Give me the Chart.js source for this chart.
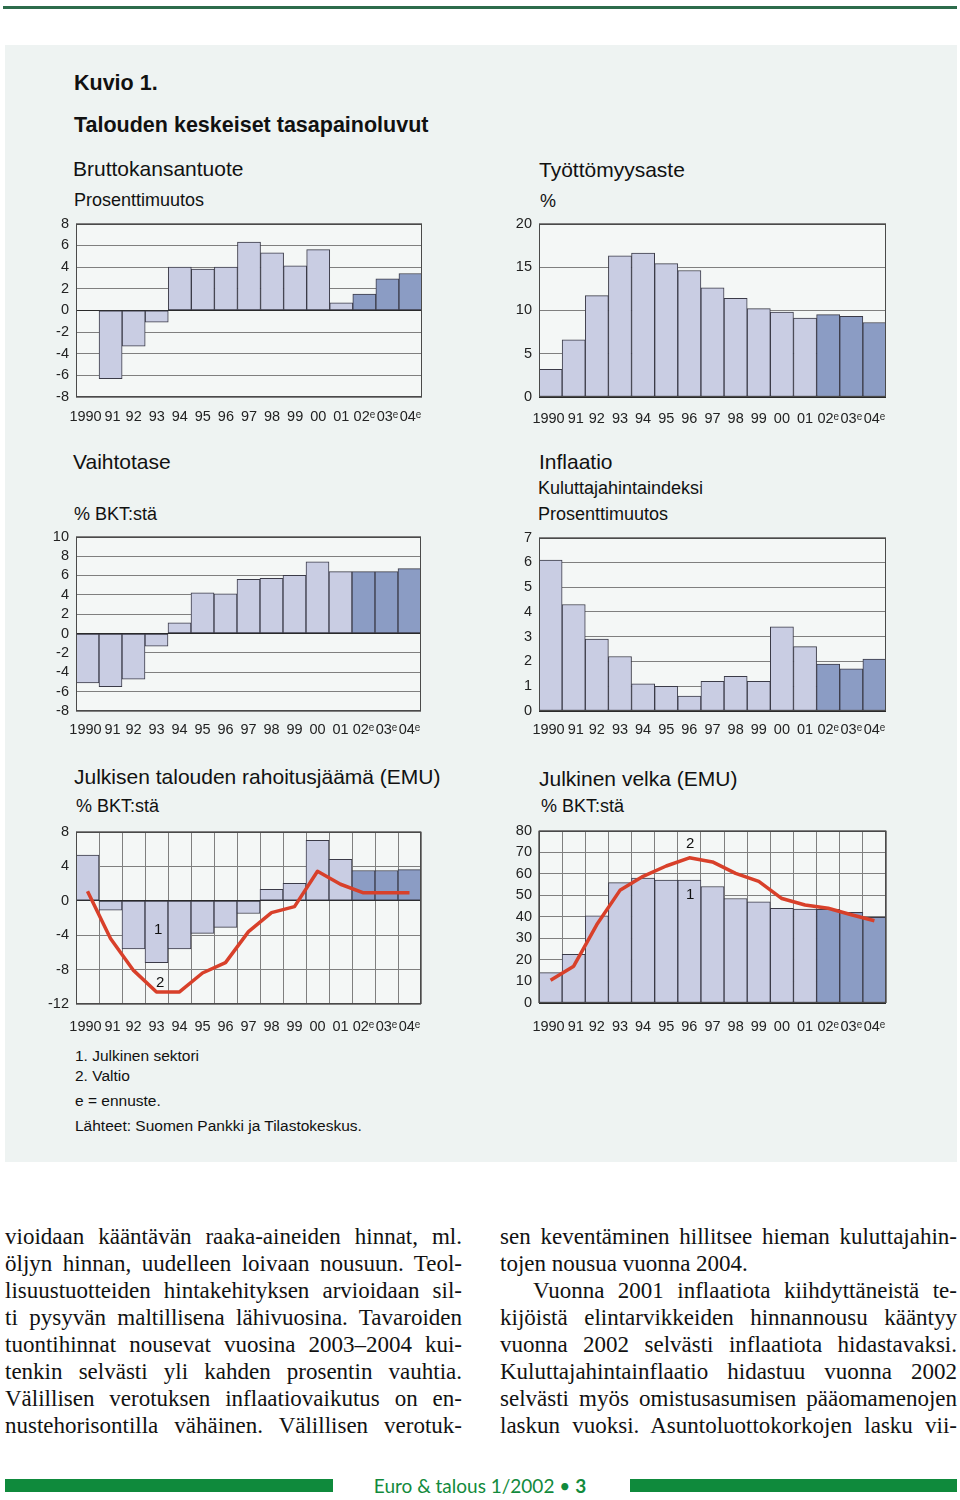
<!DOCTYPE html>
<html><head><meta charset="utf-8">
<script src="https://cdn.jsdelivr.net/npm/chart.js@4.4.1/dist/chart.umd.min.js"></script>
<style>
body{margin:0;width:960px;height:1500px;background:#fff;position:relative;font-family:"Liberation Sans",Arial,sans-serif;color:#111;overflow:hidden}
.a{position:absolute;white-space:nowrap;line-height:1}
.h1{font-weight:bold;font-size:21.5px}
.h2{font-size:21px}
.h3{font-size:18px}
.nt{font-size:15.5px}
.num{font-size:15px;z-index:3}
.col{position:absolute;top:1223px;width:457px;font-family:"Liberation Serif","Times New Roman",serif;font-size:23px;color:#111}
.ln{height:27px;line-height:27px;text-align:justify;text-align-last:justify;white-space:nowrap}
.ln.l{text-align:left;text-align-last:left}
</style></head><body>
<div style="position:absolute;left:3px;top:6px;width:954px;height:3px;background:#2d6c4b"></div>
<div style="position:absolute;left:5px;top:45px;width:952px;height:1117px;background:#eef3f2"></div>

<div class="a h1" style="left:74px;top:73px">Kuvio 1.</div>
<div class="a h1" style="left:74px;top:115px">Talouden keskeiset tasapainoluvut</div>

<div class="a h2" style="left:73px;top:158px">Bruttokansantuote</div>
<div class="a h3" style="left:74px;top:191px">Prosenttimuutos</div>
<div class="a h2" style="left:539px;top:159px">Työttömyysaste</div>
<div class="a h3" style="left:540px;top:192px">%</div>

<div class="a h2" style="left:73px;top:451px">Vaihtotase</div>
<div class="a h3" style="left:74px;top:505px">% BKT:stä</div>
<div class="a h2" style="left:539px;top:451px">Inflaatio</div>
<div class="a h3" style="left:538px;top:479px">Kuluttajahintaindeksi</div>
<div class="a h3" style="left:538px;top:505px">Prosenttimuutos</div>

<div class="a h2" style="left:74px;top:766px">Julkisen talouden rahoitusjäämä (EMU)</div>
<div class="a h3" style="left:76px;top:797px">% BKT:stä</div>
<div class="a h2" style="left:539px;top:768px">Julkinen velka (EMU)</div>
<div class="a h3" style="left:541px;top:797px">% BKT:stä</div>

<div class="a nt" style="left:75px;top:1048px">1. Julkinen sektori</div>
<div class="a nt" style="left:75px;top:1068px">2. Valtio</div>
<div class="a nt" style="left:75px;top:1093px">e = ennuste.</div>
<div class="a nt" style="left:75px;top:1118px">Lähteet: Suomen Pankki ja Tilastokeskus.</div>

<div class="col" style="left:5px">
<div class="ln">vioidaan kääntävän raaka-aineiden hinnat, ml.</div>
<div class="ln">öljyn hinnan, uudelleen loivaan nousuun. Teol-</div>
<div class="ln">lisuustuotteiden hintakehityksen arvioidaan sil-</div>
<div class="ln">ti pysyvän maltillisena lähivuosina. Tavaroiden</div>
<div class="ln">tuontihinnat nousevat vuosina 2003–2004 kui-</div>
<div class="ln">tenkin selvästi yli kahden prosentin vauhtia.</div>
<div class="ln">Välillisen verotuksen inflaatiovaikutus on en-</div>
<div class="ln">nustehorisontilla vähäinen. Välillisen verotuk-</div>
</div>
<div class="col" style="left:500px">
<div class="ln">sen keventäminen hillitsee hieman kuluttajahin-</div>
<div class="ln l">tojen nousua vuonna 2004.</div>
<div class="ln" style="padding-left:33px">Vuonna 2001 inflaatiota kiihdyttäneistä te-</div>
<div class="ln">kijöistä elintarvikkeiden hinnannousu kääntyy</div>
<div class="ln">vuonna 2002 selvästi inflaatiota hidastavaksi.</div>
<div class="ln">Kuluttajahintainflaatio hidastuu vuonna 2002</div>
<div class="ln">selvästi myös omistusasumisen pääomamenojen</div>
<div class="ln">laskun vuoksi. Asuntoluottokorkojen lasku vii-</div>
</div>

<div style="position:absolute;left:5px;top:1479px;width:328px;height:13px;background:#0f8a3c"></div>
<div style="position:absolute;left:630px;top:1479px;width:327px;height:13px;background:#0f8a3c"></div>
<div class="a" style="left:330px;width:300px;text-align:center;top:1476px;font-family:Lato,'Open Sans',sans-serif;font-size:19px;color:#128a3c">Euro &amp; talous 1/2002 • <b>3</b></div>

<script>
// ---- data ----
const xLabels = ['1990 ',' 91','92','93','94','95','96','97','98','99','00','01','02ᵉ','03ᵉ','04ᵉ'];
const forecast = [false,false,false,false,false,false,false,false,false,false,false,false,true,true,true];
const gdpGrowth = [0.0,-6.3,-3.3,-1.1,4.0,3.8,4.0,6.3,5.3,4.1,5.6,0.7,1.5,2.9,3.4];
const unemployment = [3.2,6.6,11.7,16.3,16.6,15.4,14.6,12.6,11.4,10.2,9.8,9.1,9.5,9.3,8.6];
const currentAccount = [-5.1,-5.5,-4.7,-1.3,1.1,4.2,4.1,5.6,5.7,6.0,7.4,6.4,6.4,6.4,6.7];
const inflation = [6.1,4.3,2.9,2.2,1.1,1.0,0.6,1.2,1.4,1.2,3.4,2.6,1.9,1.7,2.1];
const publicBalance = [5.3,-1.1,-5.6,-7.2,-5.6,-3.8,-3.1,-1.5,1.3,2.0,7.0,4.8,3.5,3.5,3.6];
const stateBalance = [1.1,-4.4,-8.1,-10.6,-10.6,-8.4,-7.2,-3.6,-1.4,-0.7,3.4,1.9,0.9,0.9,0.9];
const publicDebt = [14.1,22.6,40.5,55.9,58.0,57.1,57.1,54.1,48.5,47.0,44.0,43.6,43.5,42.1,39.8];
const stateDebt = [10.6,17.1,36.4,52.3,58.8,63.6,67.4,65.5,60.2,56.5,48.5,45.5,44.0,41.0,38.2];

const LIGHT = '#c9cde3', DARK = '#8b9cc4', FONT = '"Liberation Sans", Arial, "DejaVu Sans", sans-serif';

const framePlugin = {
  id: 'frame',
  beforeDraw(chart) {
    const {ctx, chartArea: a} = chart;
    ctx.save(); ctx.fillStyle = '#f4f7f6';
    ctx.fillRect(a.left, a.top, a.width, a.height); ctx.restore();
  },
  afterDatasetsDraw(chart) {
    const {ctx, chartArea: a} = chart;
    ctx.save(); ctx.strokeStyle = '#4a4a4a'; ctx.lineWidth = 1;
    ctx.strokeRect(Math.round(a.left) + 0.5, Math.round(a.top) + 0.5, Math.round(a.width) - 1, Math.round(a.height) - 1);
    ctx.restore();
  }
};

function panel(cfg) {
  const yW = 40, padT = 12, padR = 20, xH = 32;
  const c = document.createElement('canvas');
  const w = yW + (cfg.R - cfg.L) + padR, h = padT + (cfg.B - cfg.T) + xH;
  c.width = w; c.height = h;
  c.style.cssText = `position:absolute;z-index:1;left:${cfg.L - yW}px;top:${cfg.T - padT}px;width:${w}px;height:${h}px`;
  document.body.appendChild(c);
  const datasets = [{
    type: 'bar', data: cfg.bars,
    backgroundColor: forecast.map(f => f ? DARK : LIGHT),
    borderColor: '#3b3b48', borderWidth: 1, borderSkipped: false,
    categoryPercentage: 1, barPercentage: 1, order: 2
  }];
  if (cfg.line) datasets.push({
    type: 'line', data: cfg.line, borderColor: '#d8402a', borderWidth: 3.5,
    pointRadius: 0, tension: 0, borderJoinStyle: 'round', order: 1
  });
  new Chart(c, {
    type: 'bar',
    data: {labels: xLabels, datasets},
    options: {
      responsive: false, animation: false, devicePixelRatio: 1,
      layout: {padding: {top: padT, right: padR, left: 0, bottom: 0}},
      plugins: {legend: {display: false}, tooltip: {enabled: false}},
      scales: {
        x: {
          grid: {display: !!cfg.vgrid, color: '#7f7f7f', lineWidth: 1, drawTicks: false, offset: true},
          border: {display: false},
          ticks: {padding: cfg.xpad, color: '#222', font: {family: FONT, size: 14.5}, maxRotation: 0, autoSkip: false},
          afterFit: s => { s.height = xH; }
        },
        y: {
          min: cfg.min, max: cfg.max,
          ticks: {stepSize: cfg.step, padding: 7, autoSkip: false, color: '#222', font: {family: FONT, size: 14.5}},
          grid: {color: ctx => (ctx.tick && ctx.tick.value === 0) ? '#2a2a2a' : '#7f7f7f', lineWidth: 1, drawTicks: false},
          border: {display: false},
          afterFit: s => { s.width = yW; }
        }
      }
    },
    plugins: [framePlugin]
  });
}

panel({L:76, T:220, R:422, B:397, bars: gdpGrowth, min:-8, max:8, step:2, xpad:11});
panel({L:539, T:220, R:886, B:397, bars: unemployment, min:0, max:20, step:5, xpad:13});
panel({L:76, T:533, R:421, B:711, bars: currentAccount, min:-8, max:10, step:2, xpad:10});
panel({L:539, T:534, R:886, B:711, bars: inflation, min:0, max:7, step:1, xpad:10});
panel({L:76, T:828, R:421, B:1004, bars: publicBalance, line: stateBalance, min:-12, max:8, step:4, xpad:14, vgrid:true});
panel({L:539, T:827, R:886, B:1003, bars: publicDebt, line: stateDebt, min:0, max:80, step:10, xpad:15, vgrid:true});
</script>
<div class="a num" style="left:154px;top:921px">1</div>
<div class="a num" style="left:156px;top:974px">2</div>
<div class="a num" style="left:686px;top:835px">2</div>
<div class="a num" style="left:686px;top:886px">1</div>
</body></html>
